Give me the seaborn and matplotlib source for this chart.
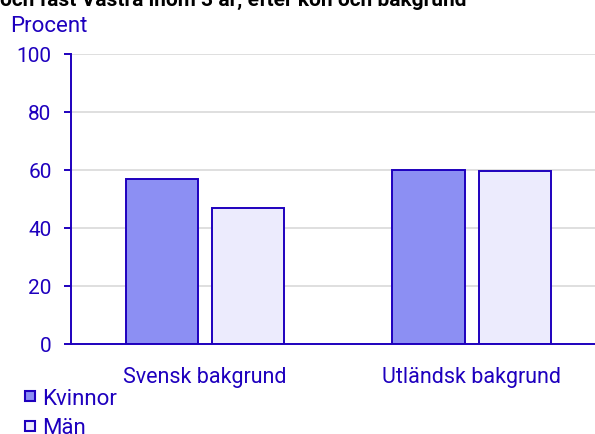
import numpy as np
import pandas as pd
import matplotlib.pyplot as plt
import seaborn as sns
from matplotlib.lines import Line2D

# Data
kategorier = ["Svensk bakgrund", "Utländsk bakgrund"]
kon = ["Kvinnor", "Män"]
kvinnor = [57, 60]
man = [47, 59.5]

blue = "#1E00BE"
fill = {"Kvinnor": "#8C8FF3", "Män": "#ECEBFD"}

df = pd.DataFrame({
    "bakgrund": kategorier * 2,
    "kon": [kon[0]] * 2 + [kon[1]] * 2,
    "procent": kvinnor + man,
})

sns.set_theme(style="white")
plt.rcParams['font.family'] = ['Roboto', 'DejaVu Sans']

fig = plt.figure(figsize=(5.95, 4.35), dpi=100)
ax = fig.add_axes([71 / 595, 1 - 345 / 435, 524 / 595, 290 / 435])

sns.barplot(data=df, x="bakgrund", y="procent", hue="kon", order=kategorier,
            hue_order=kon, palette=fill, saturation=1, width=0.648, gap=0.162,
            edgecolor=blue, linewidth=1.4, ax=ax, legend=False, zorder=3)

ax.set_ylim(0, 100)
ax.set_xlim(-0.503, 1.463)
ax.set_yticks(np.arange(0, 101, 20))
ax.yaxis.grid(True, color="#d9d9d9", linewidth=1.2, zorder=0)
ax.set_axisbelow(True)
ax.set_xlabel("")
ax.set_ylabel("")

for s in ["top", "right"]:
    ax.spines[s].set_visible(False)
for s in ["left", "bottom"]:
    ax.spines[s].set_color(blue)
    ax.spines[s].set_linewidth(1.4)
    ax.spines[s].set_zorder(4)

ax.tick_params(axis="y", left=True, length=5, width=1.4, color=blue,
               labelcolor=blue, labelsize=15, pad=9)
ax.tick_params(axis="x", bottom=False, labelcolor=blue, labelsize=15.5, pad=10)

fig.text(10 / 595, 1 - 27 / 435, "Procent", color=blue, fontsize=16, va="center", ha="left")
fig.text(0, 1.0, "och fast Västra inom 3 år, efter kön och bakgrund", color="black",
         fontsize=15, fontweight="bold", va="center", ha="left")

handles = [Line2D([], [], linestyle="none", marker="s", markersize=7.3,
                  markerfacecolor=fill[k], markeredgecolor=blue, markeredgewidth=1.5)
           for k in kon]
fig.legend(handles, kon, loc="upper left", bbox_to_anchor=(24 / 595, 1 - 389 / 435),
           frameon=False, fontsize=16, labelcolor=blue, handlelength=0.55,
           handletextpad=0.25, labelspacing=0.38, borderpad=0, borderaxespad=0)

fig.savefig("out.png", dpi=100)
